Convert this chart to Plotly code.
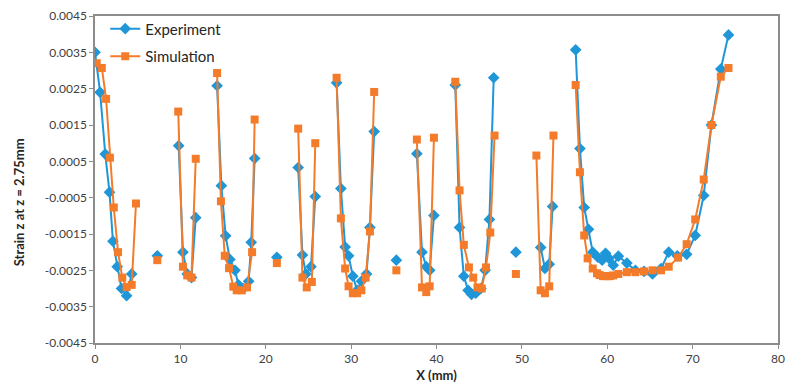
import plotly.graph_objects as go

# ---- data (segments separated by gaps) ----
exp_x_segments = [
    [0.0, 0.6, 1.2, 1.7, 2.1, 2.6, 3.1, 3.7, 4.3],
    [7.3],
    [9.8, 10.3, 10.8, 11.3, 11.8],
    [14.3, 14.8, 15.3, 15.8, 16.4, 16.8, 17.4, 18.0, 18.3, 18.7],
    [21.3],
    [23.8, 24.3, 24.7, 25.3, 25.8],
    [28.3, 28.8, 29.3, 29.7, 30.2, 30.7, 31.2, 31.8, 32.2, 32.7],
    [35.3],
    [37.7, 38.3, 38.8, 39.2, 39.7],
    [42.2, 42.7, 43.2, 43.7, 44.1, 44.6, 45.2, 45.7, 46.2, 46.7],
    [49.3],
    [52.2, 52.7, 53.2, 53.6],
    [56.3, 56.8, 57.3, 57.8, 58.3, 58.9, 59.4, 59.8, 60.2, 60.7, 61.3, 62.3,
     63.3, 64.3, 65.3, 66.3, 67.2, 68.2, 69.3, 70.3, 71.3, 72.2, 73.3, 74.2],
]
exp_y_segments = [
    [0.0035, 0.0024, 0.0007, -0.00035, -0.0017, -0.0024, -0.0030, -0.0032, -0.0026],
    [-0.0021],
    [0.00093, -0.0020, -0.0026, -0.0027, -0.00105],
    [0.00258, -0.00017, -0.00155, -0.0022, -0.0025, -0.0029, -0.0030, -0.0028, -0.00173, 0.00058],
    [-0.00214],
    [0.00033, -0.00208, -0.0026, -0.0024, -0.00047],
    [0.00266, -0.00025, -0.00186, -0.0021, -0.00266, -0.00305, -0.0028, -0.0026, -0.00132, 0.00132],
    [-0.00222],
    [0.00071, -0.0020, -0.0024, -0.0025, -0.00099],
    [0.0026, -0.00132, -0.00266, -0.00305, -0.00316, -0.00313, -0.0030, -0.0025, -0.0011, 0.0028],
    [-0.0020],
    [-0.00187, -0.00245, -0.00233, -0.00074],
    [0.00357, 0.00085, -0.00077, -0.00137, -0.0020, -0.00214, -0.00222, -0.00203, -0.00217,
     -0.00236, -0.00211, -0.0023, -0.0025, -0.00253, -0.0026, -0.00245, -0.0020, -0.0021,
     -0.00206, -0.00154, -0.00044, 0.0015, 0.00304, 0.00398],
]

sim_x_segments = [
    [0.2, 0.8, 1.3, 1.75, 2.2, 2.7, 3.2, 3.7, 4.3, 4.8],
    [7.3],
    [9.75, 10.3, 10.8, 11.3, 11.8],
    [14.3, 14.75, 15.2, 15.7, 16.2, 16.6, 17.2, 17.8, 18.4, 18.7],
    [21.3],
    [23.8, 24.3, 24.8, 25.4, 25.8],
    [28.3, 28.8, 29.3, 29.7, 30.2, 30.7, 31.2, 31.7, 32.2, 32.7],
    [35.3],
    [37.7, 38.3, 38.8, 39.2, 39.7],
    [42.2, 42.7, 43.2, 43.8, 44.3, 44.8, 45.3, 45.8, 46.3, 46.8],
    [49.3],
    [51.7, 52.2, 52.7, 53.2, 53.7],
    [56.3, 56.8, 57.3, 57.7, 58.3, 58.8, 59.1, 59.5, 60.0, 60.3, 60.7, 61.3, 62.3,
     63.3, 64.3, 65.3, 66.3, 67.2, 68.3, 69.3, 70.3, 71.3, 72.2, 73.3, 74.2],
]
sim_y_segments = [
    [0.0032, 0.00307, 0.00222, 0.0006, -0.00077, -0.0020, -0.0027, -0.00296, -0.0029, -0.00066],
    [-0.00222],
    [0.00187, -0.0024, -0.00264, -0.0027, 0.00057],
    [0.00293, -0.0006, -0.0021, -0.00244, -0.00295, -0.00305, -0.00305, -0.00297, -0.0020, 0.00165],
    [-0.0023],
    [0.0014, -0.0027, -0.00297, -0.00282, 0.0010],
    [0.0028, -0.00107, -0.00245, -0.00294, -0.00313, -0.00313, -0.00305, -0.0027, -0.00143, 0.00241],
    [-0.0025],
    [0.0011, -0.00297, -0.0031, -0.00294, 0.00115],
    [0.00269, -0.0003, -0.0018, -0.00242, -0.0027, -0.00297, -0.0030, -0.00242, -0.00146, 0.00121],
    [-0.0026],
    [0.00066, -0.00305, -0.00313, -0.00294, 0.00121],
    [0.0026, 0.0002, -0.00154, -0.00217, -0.00245, -0.00258, -0.00263, -0.00266, -0.00266,
     -0.00266, -0.00264, -0.0026, -0.00255, -0.00255, -0.00253, -0.0025, -0.0025, -0.0024,
     -0.00215, -0.00178, -0.0011, 0.0, 0.0015, 0.00283, 0.00307],
]

y_tick_vals = [0.0045, 0.0035, 0.0025, 0.0015, 0.0005, -0.0005, -0.0015, -0.0025, -0.0035, -0.0045]
y_tick_text = ["0.0045", "0.0035", "0.0025", "0.0015", "0.0005", "-0.0005", "-0.0015", "-0.0025", "-0.0035", "-0.0045"]
x_tick_vals = [0, 10, 20, 30, 40, 50, 60, 70, 80]


def join(segs):
    out = []
    for i, s in enumerate(segs):
        if i:
            out.append(None)
        out.extend(s)
    return out


BLUE = "#1E96D8"
ORANGE = "#F47B2A"
FONT = "Lato, 'Liberation Sans', sans-serif"

fig = go.Figure()
fig.add_trace(go.Scatter(
    x=join(exp_x_segments), y=join(exp_y_segments), name="Experiment",
    mode="lines+markers", connectgaps=False, legendgroup="a",
    line=dict(color=BLUE, width=2),
    marker=dict(symbol="diamond", size=9, color=BLUE),
))
fig.add_trace(go.Scatter(
    x=join(sim_x_segments), y=join(sim_y_segments), name="Simulation",
    mode="lines+markers", connectgaps=False, legendgroup="b",
    line=dict(color=ORANGE, width=2),
    marker=dict(symbol="square", size=8, color=ORANGE),
))

# page body has an 8px margin; figure is sized/offset to compensate
fig.update_layout(
    width=792, height=381,
    margin=dict(l=87, r=22, t=8, b=46, autoexpand=False),
    paper_bgcolor="white", plot_bgcolor="white",
    font=dict(family=FONT, size=12, color="#404040"),
    showlegend=True,
    legend=dict(x=0.015, y=1.011, xanchor="left", yanchor="top",
                bgcolor="rgba(0,0,0,0)", font=dict(size=15, color="#262626"),
                traceorder="grouped", tracegroupgap=5, itemwidth=30),
    xaxis=dict(range=[0, 80], tickvals=x_tick_vals, showgrid=False, zeroline=False,
               automargin=False, ticklabeloverflow="allow",
               showline=True, linecolor="#8c8c8c", linewidth=1.5, mirror=True,
               ticks="outside", ticklen=4, tickcolor="#8c8c8c",
               tickfont=dict(size=12, color="#404040"),
               title=dict(text="<b>X (mm)</b>", font=dict(size=13, color="#262626"), standoff=6)),
    yaxis=dict(range=[-0.0045, 0.0045], tickvals=y_tick_vals, ticktext=y_tick_text,
               showgrid=False, zeroline=False, automargin=False, ticklabeloverflow="allow",
               showline=True, linecolor="#8c8c8c", linewidth=1.5, mirror=True,
               ticks="outside", ticklen=4, tickcolor="#8c8c8c",
               tickfont=dict(size=12, color="#404040")),
    annotations=[dict(text="<b>Strain z at z = 2.75mm</b>", textangle=-90,
                      xref="paper", yref="paper", x=-0.11, y=0.43,
                      xanchor="center", yanchor="middle", showarrow=False,
                      font=dict(size=13, color="#262626", family=FONT))],
)

fig.write_html("out.html")
